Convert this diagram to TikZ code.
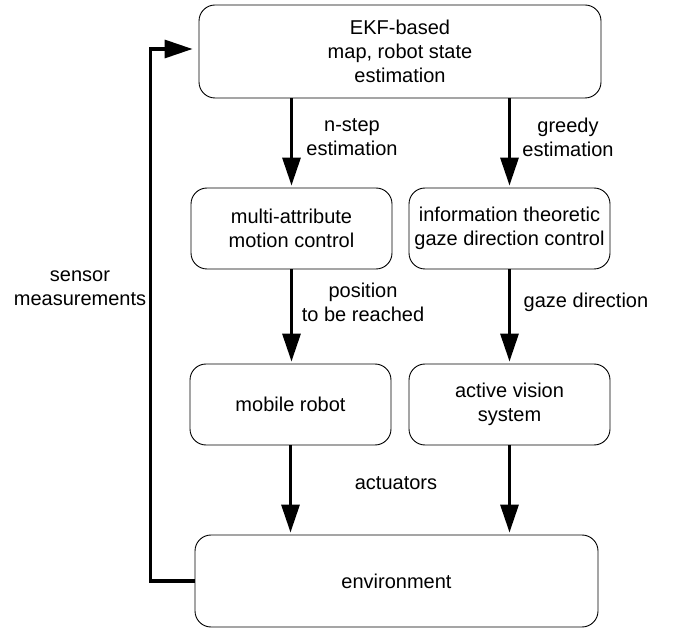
\documentclass[tikz,border=0pt]{standalone}
\usepackage{fontspec}
\setmainfont{Liberation Sans}
\usetikzlibrary{arrows.meta}
\begin{document}
\begin{tikzpicture}[x=1pt,y=-1pt,
  box/.style={draw,line width=0.9pt,rounded corners=16pt,align=center,inner sep=0pt},
  arr/.style={line width=3.2pt,-{Triangle[length=28pt,width=18pt]},shorten >=2pt},
  lbl/.style={align=center,inner sep=0pt},
  every node/.style={font=\fontsize{20}{24}\selectfont}]
\useasboundingbox (0,0) rectangle (673,631);
\node[box,minimum width=402pt,minimum height=93pt] (top) at (400,51.5) {EKF-based\\map, robot state\\estimation};
\node[box,minimum width=201pt,minimum height=81pt] (ml) at (291.5,228.5) {multi-attribute\\motion control};
\node[box,minimum width=201pt,minimum height=81pt] (mr) at (509.5,228.5) {information theoretic\\gaze direction control};
\node[box,minimum width=201pt,minimum height=81pt] (bl) at (290.5,404.5) {mobile robot};
\node[box,minimum width=201pt,minimum height=81pt] (br) at (509.5,404.5) {active vision\\system};
\node[box,minimum width=403pt,minimum height=92pt] (env) at (396.5,581) {environment};
\coordinate (fb) at ([yshift=2.5pt]top.west);
\draw[arr] (top.south -| ml.north) -- (ml.north);
\draw[arr] (top.south -| mr.north) -- (mr.north);
\draw[arr] (ml.south) -- (bl.north -| ml.south);
\draw[arr] (mr.south) -- (br.north -| mr.south);
\draw[arr] (bl.south) -- (env.north -| bl.south);
\draw[arr] (br.south) -- (env.north -| br.south);
\draw[arr,shorten >=6pt] (env.west) -- ++(-44,0) |- (fb);
\node[lbl] (l1) at (352,137) {n-step\\estimation};
\node[lbl] (l2) at (568,137) {greedy\\estimation};
\node[lbl] (l3) at (363,302) {position\\to be reached};
\node[lbl] (l4) at (586,302) {gaze direction};
\node[lbl] (l5) at (396,483) {actuators};
\node[lbl] (l6) at (80,288) {sensor\\measurements};
\end{tikzpicture}
\end{document}
